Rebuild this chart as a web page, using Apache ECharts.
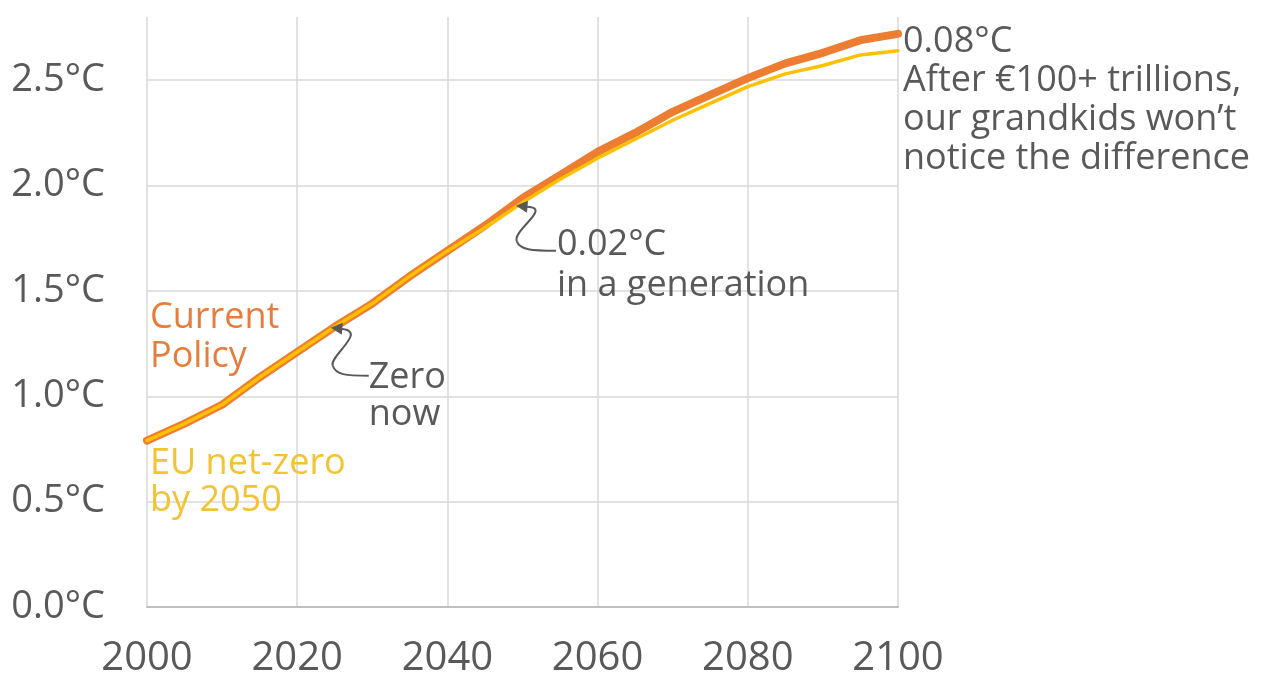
<!DOCTYPE html>
<html><head><meta charset="utf-8">
<script src="https://cdn.jsdelivr.net/npm/echarts@6/dist/echarts.min.js"></script>
<style>html,body{margin:0;padding:0;background:#fff;}#c{width:1281px;height:679px;}</style>
</head><body><div id="c"></div>
<script>
const years = [2000,2005,2010,2015,2020,2025,2030,2035,2040,2045,2050,2055,2060,2065,2070,2075,2080,2085,2090,2095,2100];
const currentPolicy = [0.79,0.87,0.96,1.09,1.21,1.33,1.44,1.57,1.69,1.81,1.94,2.05,2.16,2.25,2.35,2.43,2.51,2.58,2.63,2.69,2.72];
const euNetZero     = [0.79,0.87,0.96,1.09,1.21,1.33,1.44,1.57,1.69,1.80,1.92,2.03,2.13,2.22,2.31,2.39,2.47,2.53,2.57,2.62,2.64];
const xTickLabels = ['2000','2020','2040','2060','2080','2100'];
const yTickLabels = ['0.0°C','0.5°C','1.0°C','1.5°C','2.0°C','2.5°C'];
const seriesNames = ['Current Policy','EU net-zero by 2050'];
const zeroNowYear = 2025, generationYear = 2049;

const chart = echarts.init(document.getElementById('c'), null, {renderer:'canvas'});
const FONT = "'Open Sans', sans-serif";
const GREY = '#595959';
const GRID = '#d9d9d9';

chart.setOption({
  animation:false,
  grid:{left:147,right:383,top:17,bottom:72},
  xAxis:{type:'value',min:2000,max:2100,interval:20,
    axisLine:{show:true,lineStyle:{color:'#bfbfbf',width:2}},
    axisTick:{show:false},
    splitLine:{show:true,lineStyle:{color:GRID,width:1.5}},
    axisLabel:{margin:32,fontFamily:FONT,fontSize:40,color:GREY,
      formatter:v=>{const i=(v-2000)/20; return Number.isInteger(i)?xTickLabels[i]:'';}}},
  yAxis:{type:'value',min:0,max:2.8,interval:0.5,
    axisLine:{show:false},axisTick:{show:false},
    splitLine:{show:true,lineStyle:{color:[GRID,GRID,GRID,GRID,GRID,GRID,'rgba(0,0,0,0)'],width:1.5}},
    axisLabel:{margin:42,fontFamily:FONT,fontSize:38,color:GREY,
      formatter:v=>{const i=Math.round(v*2); return Math.abs(v*2-i)<1e-6?yTickLabels[i]:'';}}},
  series:[
    {type:'line',name:seriesNames[0],data:years.map((y,i)=>[y,currentPolicy[i]]),symbol:'none',
     lineStyle:{color:'#ED7D31',width:8,cap:'round',join:'round'},z:2},
    {type:'line',name:seriesNames[1],data:years.map((y,i)=>[y,euNetZero[i]]),symbol:'none',
     lineStyle:{color:'#FFC000',width:3.5,cap:'round',join:'round'},z:3}
  ]
});

function valAt(arr, yr){
  for(let i=0;i<years.length-1;i++){
    if(yr>=years[i]&&yr<=years[i+1]){const t=(yr-years[i])/(years[i+1]-years[i]);return arr[i]+t*(arr[i+1]-arr[i]);}
  }
  return arr[arr.length-1];
}
function arrow(tx,ty,c1,c2){
  const s={stroke:GREY,lineWidth:2,fill:null};
  return [
    {type:'polygon',shape:{points:[[tx,ty],[tx+12,ty-5],[tx+11,ty+7]]},style:{fill:GREY},z:10},
    {type:'bezierCurve',shape:{x1:tx+8,y1:ty+1,cpx1:tx+c1[0],cpy1:ty+c1[1],cpx2:tx+c1[2],cpy2:ty+c1[3],x2:tx+c1[4],y2:ty+c1[5]},style:s,z:10},
    {type:'bezierCurve',shape:{x1:tx+c1[4],y1:ty+c1[5],cpx1:tx+c2[0],cpy1:ty+c2[1],cpx2:tx+c2[2],cpy2:ty+c2[3],x2:tx+c2[4],y2:ty+c2[5]},style:s,z:10}
  ];
}
function label(x,yCenter,text,color,size,lh){
  return {type:'text',x:x,y:yCenter-lh/2,z:10,
    style:{text:text,fill:color,fontFamily:FONT,fontSize:size,lineHeight:lh,verticalAlign:'top',align:'left'}};
}
const p1 = chart.convertToPixel({gridIndex:0},[zeroNowYear,valAt(currentPolicy,zeroNowYear)]);
const p2 = chart.convertToPixel({gridIndex:0},[generationYear,valAt(currentPolicy,generationYear)]);
const tip1=[p1[0]-4,p1[1]+1], tip2=[p2[0]+1,p2[1]+2];
const els = [].concat(
  arrow(tip1[0],tip1[1],[40,2,-2,28,2,38],[5,47,15,48,38,48]),
  arrow(tip2[0],tip2[1],[40,0,-5,25,1,36],[4,44,15,45,40,45]),
  [
    label(903,42,'0.08°C\nAfter €100+ trillions,\nour grandkids won’t\nnotice the difference',GREY,36,39),
    label(150,318,'Current\nPolicy','#E57E3C',36,39),
    label(150,464,'EU net-zero\nby 2050','#F3C332',36,37),
    label(tip1[0]+38,378,'Zero\nnow',GREY,36,37),
    label(tip2[0]+41,245,'0.02°C\nin a generation',GREY,36,41)
  ]
);
chart.setOption({graphic:{elements:els}});
</script>
</body></html>
